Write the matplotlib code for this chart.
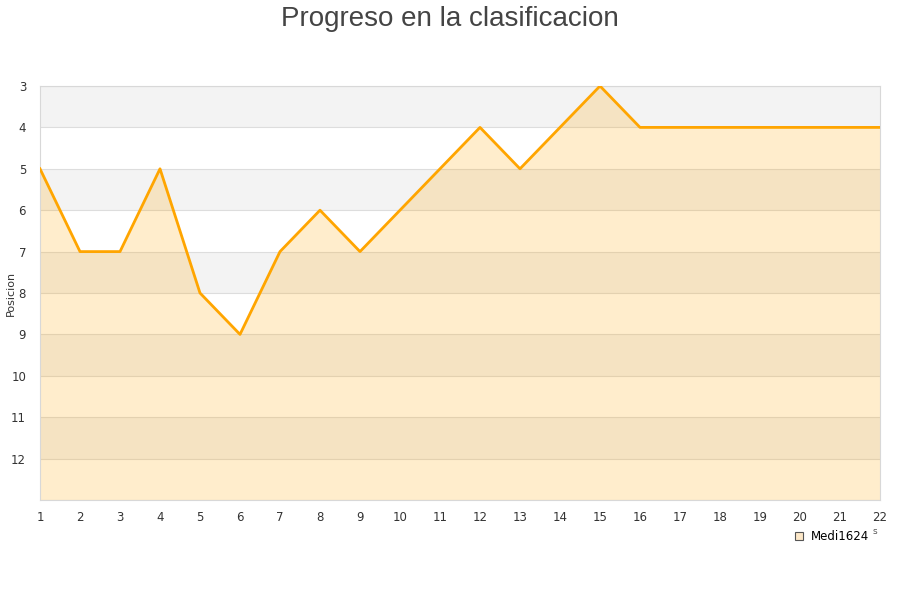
import matplotlib.pyplot as plt
from matplotlib.lines import Line2D

jornadas = list(range(1, 23))
posicion = [5, 7, 7, 5, 8, 9, 7, 6, 7, 6, 5, 4, 5, 4, 3, 4, 4, 4, 4, 4, 4, 4]
y_ticks = list(range(3, 13))
equipo = "Medi1624"

fig = plt.figure(figsize=(9, 6), dpi=100)
ax = fig.add_axes([40 / 900, 1 - 500 / 600, 840 / 900, 414 / 600])

# bandas alternas
for y0 in range(3, 13, 2):
    ax.axhspan(y0, y0 + 1, color='#f3f3f3', zorder=0, lw=0)
for y in range(3, 14):
    ax.axhline(y, color='#dddddd', lw=0.8, zorder=1)

ax.fill_between(jornadas, posicion, 13, color='orange', alpha=0.2, lw=0, zorder=2)
ax.plot(jornadas, posicion, color='#ffa500', lw=2.0, zorder=3)

ax.set_xlim(1, 22)
ax.set_ylim(13, 3)
ax.set_xticks(jornadas)
ax.set_yticks(y_ticks)
ax.tick_params(length=0, labelsize=8.5, colors='#333333')
ax.tick_params(axis='x', pad=8)
ax.tick_params(axis='y', pad=10)
for s in ax.spines.values():
    s.set_color('#d8d8d8')
ax.set_ylabel("Posicion", fontsize=8, color='#333333')
ax.yaxis.set_label_coords(-24 / 840, 0.5)

fig.suptitle("Progreso en la clasificacion", fontsize=20, color='#444444', y=0.99,
             family='Liberation Sans')

handle = Line2D([], [], marker='s', ls='', markersize=6, markerfacecolor='#fde8c8',
                markeredgecolor='#555555', markeredgewidth=0.8)
fig.legend([handle], [equipo], loc='center left', bbox_to_anchor=(787 / 900, 1 - 537 / 600),
           frameon=False, fontsize=8.5, handletextpad=0.5, borderpad=0, handlelength=1)
fig.text(875 / 900, 1 - 532 / 600, "s", fontsize=6.5, color='#555555', ha='center', va='center')

fig.savefig("out.png", dpi=100)
